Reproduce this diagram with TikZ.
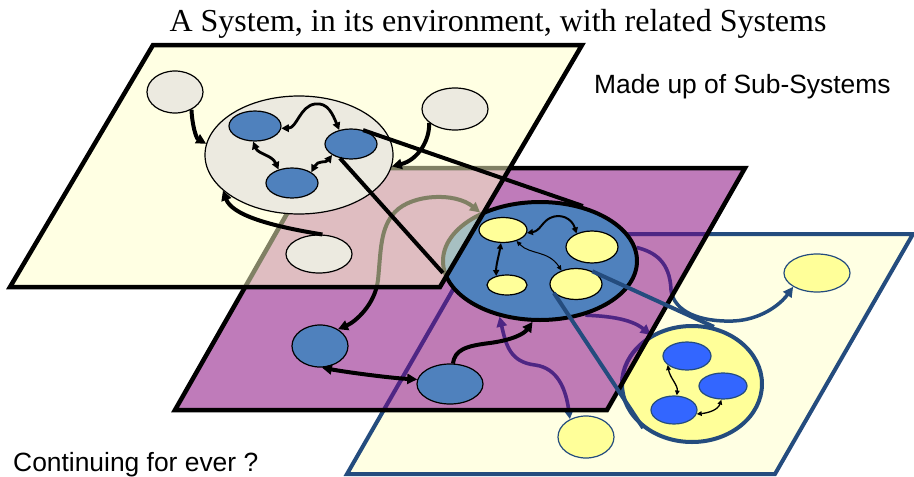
\documentclass[tikz,border=0pt]{standalone}
\usepackage{fontspec}
\setmainfont{Liberation Serif}
\newfontfamily\captionsans{Liberation Sans}
\usetikzlibrary{arrows.meta,shapes.geometric}

\pgfdeclarelayer{lowplane}
\pgfdeclarelayer{midplane}
\pgfdeclarelayer{midstuff}
\pgfdeclarelayer{topplane}
\pgfdeclarelayer{topstuff}
\pgfsetlayers{lowplane,midplane,midstuff,topplane,topstuff,main}

\definecolor{paleyellow}{RGB}{255,255,227}
\definecolor{veilyellow}{RGB}{255,255,200}
\definecolor{beige}{RGB}{236,234,224}
\definecolor{sysblue}{RGB}{79,129,189}
\definecolor{subyellow}{RGB}{255,255,153}
\definecolor{brightblue}{RGB}{51,102,255}
\definecolor{navy}{RGB}{36,76,126}
\definecolor{plum}{RGB}{180,100,174}
\definecolor{deepplum}{RGB}{78,38,132}

\tikzset{
  blob/.style={ellipse, draw=black, inner sep=0pt, line width=1.2pt},
  sysblob/.style={blob, fill=sysblue},
  envblob/.style={blob, fill=beige},
  subblob/.style={blob, fill=subyellow},
  partblob/.style={blob, fill=brightblue, draw=navy},
  heavyone/.style={line width=4pt, -{Triangle[length=10pt,width=10pt]}},
  heavytwo/.style={line width=4pt, {Triangle[length=10pt,width=10pt]}-{Triangle[length=10pt,width=10pt]}},
  medtwo/.style={line width=2.8pt, {Triangle[length=7.5pt,width=7.5pt]}-{Triangle[length=7.5pt,width=7.5pt]}},
  lighttwo/.style={line width=2pt, {Triangle[length=6pt,width=6pt]}-{Triangle[length=6pt,width=6pt]}},
  hairtwo/.style={line width=1pt, {Triangle[length=5pt,width=4.5pt]}-{Triangle[length=5pt,width=4.5pt]}},
  flowone/.style={line width=3.5pt, -{Triangle[length=10pt,width=10pt]}},
  flowtwo/.style={line width=3.5pt, {Triangle[length=10pt,width=10pt]}-{Triangle[length=10pt,width=10pt]}},
  tie/.style={line width=4pt},
  planeedge/.style={line width=4.5pt, line join=miter},
}

% links running on the lowest plane, reused for the tinted pass under the middle plane
\newcommand\linkToSmall{(Mbig.234) .. controls (506,345) and (510,362) .. (535,365) .. controls (558,368) and (566,390) .. (S2.132)}
\newcommand\linkToCircle{(Mbig.-50) .. controls (605,316) and (630,318) .. (Cbig.130)}
\newcommand\linkToFar{(Mbig.8) .. controls (655,252) and (670,262) .. (671,290) .. controls (674,312) and (700,322) .. (733,321) .. controls (760,320) and (780,305) .. (S1.210)}

\begin{document}
\begin{tikzpicture}[x=1pt,y=-1pt]
\useasboundingbox (0,0) rectangle (914,477);

% plane corners
\coordinate (tp1) at (153,45);  \coordinate (tp2) at (582,45);
\coordinate (tp3) at (440,287); \coordinate (tp4) at (10,287);
\coordinate (mp1) at (313,168); \coordinate (mp2) at (745,168);
\coordinate (mp3) at (607,410); \coordinate (mp4) at (175,410);
\coordinate (lp1) at (485,234); \coordinate (lp2) at (913,234);
\coordinate (lp3) at (775,474); \coordinate (lp4) at (347,474);

% ---------- middle plane: the system and its neighbours ----------
\begin{pgfonlayer}{midstuff}
  \draw[planeedge] (mp1) -- (mp2) -- (mp3) -- (mp4) -- cycle;
  \node[sysblob, line width=4pt, minimum width=194pt, minimum height=118pt] (Mbig) at (540,261) {};
  \node[subblob, minimum width=48pt, minimum height=25pt] (Y1) at (503,230) {};
  \node[subblob, minimum width=52pt, minimum height=32pt] (Y2) at (592,247) {};
  \node[subblob, minimum width=40pt, minimum height=20pt] (Y3) at (507,285) {};
  \node[subblob, minimum width=52pt, minimum height=31pt] (Y4) at (576,284) {};
  \node[sysblob, minimum width=56pt, minimum height=42pt] (M1) at (320,346) {};
  \node[sysblob, minimum width=66pt, minimum height=40pt] (M2) at (450,384) {};

  \draw[lighttwo] (Y1.-99) .. controls (499,255) and (496,265) .. (Y3.140);
  \draw[lighttwo] (Y1.-7) .. controls (540,231) and (542,222) .. (550,218)
        .. controls (560,213) and (572,218) .. (Y2.139);
  \draw[hairtwo] (Y1.-39) .. controls (530,255) and (548,250) .. (Y4.137);

  \draw[heavytwo] (M1.-85) .. controls (345,372) and (390,378) .. (M2.172);
  \draw[heavyone] (M2.82) .. controls (455,350) and (465,346) .. (490,343)
        .. controls (512,340) and (524,334) .. (Mbig.-97);
  \draw[heavytwo] (M1.43) .. controls (355,322) and (375,305) .. (378,280)
        .. controls (381,250) and (380,228) .. (395,212)
        .. controls (412,194) and (455,192) .. (Mbig.141);
\end{pgfonlayer}

% ---------- lowest plane: a sub-system broken into parts ----------
\begin{pgfonlayer}{lowplane}
  \filldraw[fill=paleyellow, draw=navy, line width=4pt, line join=miter]
    (lp1) -- (lp2) -- (lp3) -- (lp4) -- cycle;
  \node[subblob, draw=navy, line width=4pt, minimum width=140pt, minimum height=116pt] (Cbig) at (692,384) {};
  \node[partblob, minimum width=48pt, minimum height=28pt] (C1) at (687,356) {};
  \node[partblob, minimum width=48pt, minimum height=26pt] (C2) at (723,386) {};
  \node[partblob, minimum width=46pt, minimum height=28pt] (C3) at (674,410) {};
  \node[subblob, draw=navy, minimum width=66pt, minimum height=38pt] (S1) at (817,273) {};
  \node[subblob, draw=navy, minimum width=56pt, minimum height=42pt] (S2) at (586,437) {};

  \draw[hairtwo, line width=1.3pt] (C1.205) .. controls (670,378) and (678,385) .. (C3.79);
  \draw[hairtwo, line width=1.3pt] (C3.-10) .. controls (708,413) and (718,410) .. (C2.263);

  \draw[navy, flowtwo] \linkToSmall;
  \draw[navy, flowone] \linkToCircle;
  \draw[navy, flowone] \linkToFar;
\end{pgfonlayer}

% ---------- middle plane surface, tinting what lies beneath ----------
\begin{pgfonlayer}{midplane}
  \fill[plum, fill opacity=.85] (mp1) -- (mp2) -- (mp3) -- (mp4) -- cycle;
  \begin{scope}
    \clip (mp1) -- (mp2) -- (mp3) -- (mp4) -- cycle;
    \draw[deepplum, line width=4pt] (lp1) -- (lp2) -- (lp3) -- (lp4) -- cycle;
    \draw[deepplum, line width=4pt] (Cbig.center) ellipse [x radius=70, y radius=58];
    \draw[deepplum, flowtwo] \linkToSmall;
    \draw[deepplum, flowone] \linkToCircle;
    \draw[deepplum, flowone] \linkToFar;
  \end{scope}
\end{pgfonlayer}

% ---------- top plane: a system in its environment ----------
\begin{pgfonlayer}{topplane}
  \fill[veilyellow, fill opacity=.5] (tp1) -- (tp2) -- (tp3) -- (tp4) -- cycle;
  \draw[planeedge] (tp1) -- (tp2) -- (tp3) -- (tp4) -- cycle;
\end{pgfonlayer}

\begin{pgfonlayer}{topstuff}
  \node[envblob, minimum width=188pt, minimum height=118pt] (Tbig) at (299,155) {};
  \node[sysblob, minimum width=52pt, minimum height=30pt] (B1) at (255,126) {};
  \node[sysblob, minimum width=52pt, minimum height=30pt] (B2) at (351,144) {};
  \node[sysblob, minimum width=52pt, minimum height=30pt] (B3) at (292,183) {};
  \node[envblob, minimum width=56pt, minimum height=42pt] (E1) at (175,92) {};
  \node[envblob, minimum width=66pt, minimum height=42pt] (E2) at (455,109) {};
  \node[envblob, minimum width=66pt, minimum height=38pt] (E3) at (319,254) {};

  \draw[heavyone] (E1.-47) .. controls (192,124) and (196,138) .. (Tbig.173);
  \draw[heavyone] (E2.208) .. controls (430,140) and (418,160) .. (Tbig.-7);
  \draw[heavyone] (E3.80) .. controls (270,226) and (232,215) .. (Tbig.205);

  \draw[medtwo] (B1.-5) .. controls (297,128) and (300,106) .. (315,104)
        .. controls (328,102) and (333,115) .. (B2.130);
  \draw[medtwo] (B1.-97) .. controls (258,154) and (272,155) .. (B3.135);
  \draw[medtwo] (B2.210) .. controls (326,163) and (318,160) .. (B3.29);
\end{pgfonlayer}

% ---------- ties between levels ----------
\draw[tie] (B2.49) -- (Mbig.52);
\draw[tie] (B2.232) -- (Mbig.187);
\draw[tie, navy] (Y4.38) -- (Cbig.69);
\draw[tie, navy] (Y4.202) -- (Cbig.222);

% ---------- captions ----------
\node[anchor=base, inner sep=0pt, font=\fontsize{32}{36}\selectfont] (title) at (498,31)
  {A System, in its environment, with related Systems};
\node[anchor=base west, inner sep=0pt, font=\captionsans\fontsize{26.4}{30}\selectfont] (subsys) at (594,93)
  {Made up of Sub-Systems};
\node[anchor=base west, inner sep=0pt, font=\captionsans\fontsize{26.4}{30}\selectfont] (forever) at (13,471)
  {Continuing for ever ?};
\end{tikzpicture}
\end{document}
